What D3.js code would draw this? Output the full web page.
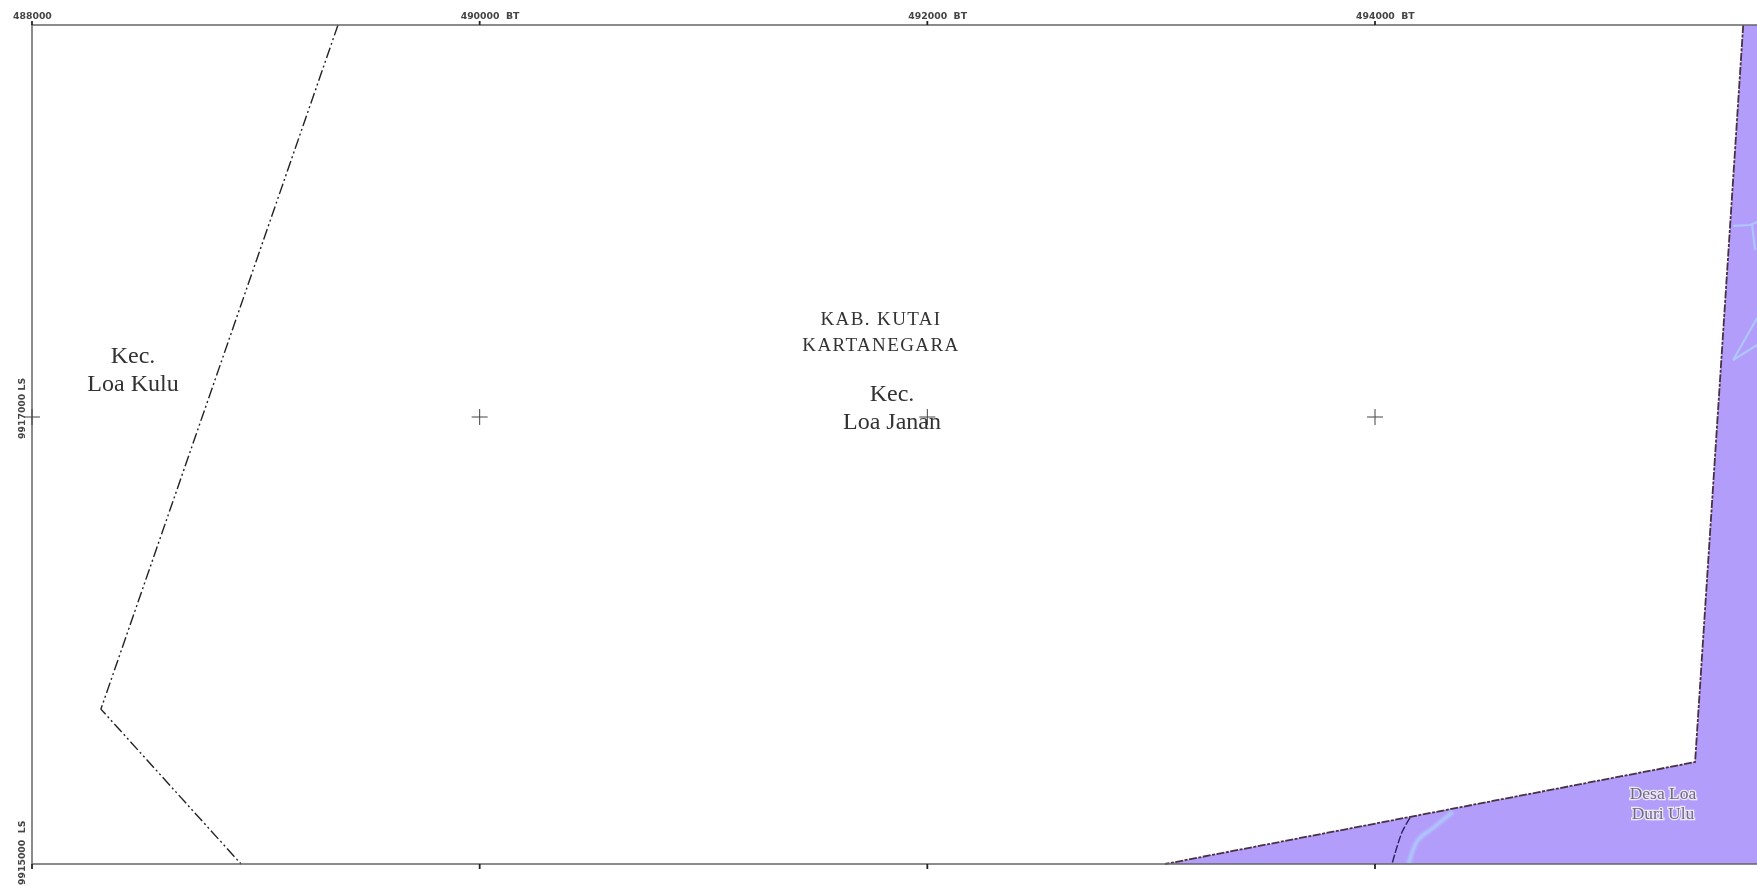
<!DOCTYPE html>
<html>
<head>
<meta charset="utf-8">
<script src="https://cdn.jsdelivr.net/npm/d3@7"></script>
<style>
  html, body { margin: 0; padding: 0; background: #fff; overflow: hidden; }
  text { fill: #333; }
  .tick-label { font-family: "DejaVu Sans", sans-serif; font-size: 9.3px; font-weight: bold; fill: #444; }
  .place { font-family: "Liberation Serif", serif; text-anchor: middle; }
</style>
</head>
<body>
<svg id="map" width="1757" height="886"></svg>
<script>
// map coordinates are metres (east, north)
const xTicks = [488000, 490000, 492000, 494000];
const xTickLabels = ["488000", "490000  BT", "492000  BT", "494000  BT"];
const yTicks = [9917000, 9915000];
const yTickLabels = ["9917000 LS", "9915000  LS"];

const areaEast = [495645, 495430, 493062, 495707, 495707];
const areaNorth = [9918754, 9915456, 9915000, 9915000, 9918754];

const westLineEast = [489367, 488308, 488934];
const westLineNorth = [9918754, 9915693, 9915000];

const innerLineEast = [494156, 494121, 494076];
const innerLineNorth = [9915206, 9915143, 9915000];

const stream1East = [494348, 494259, 494192, 494150];
const stream1North = [9915233, 9915161, 9915107, 9915000];
const stream2East = [495600, 495676, 495707];
const stream2North = [9917855, 9917859, 9917872];
const stream2bEast = [495685, 495698];
const stream2bNorth = [9917859, 9917747];
const stream3East = [495707, 495600, 495707];
const stream3North = [9917443, 9917255, 9917322];

const xScale = d3.scaleLinear().domain([488000, 494000]).range([32, 1375]);
const yScale = d3.scaleLinear().domain([9917000, 9915000]).range([417, 864]);

const root = d3.select("#map");
// the source is a soft scan, so everything gets a slight blur
root.append("filter").attr("id", "soft")
  .attr("filterUnits", "userSpaceOnUse")
  .attr("x", 0).attr("y", 0).attr("width", 1757).attr("height", 886)
  .append("feGaussianBlur").attr("stdDeviation", 0.55);
root.append("filter").attr("id", "softer")
  .append("feGaussianBlur").attr("stdDeviation", 0.9);
const svg = root.append("g").attr("filter", "url(#soft)");

const frameTop = yScale(9918754), frameBottom = yScale(9915000);
const frameLeft = xScale(488000), frameRight = 1757;

const toPts = (e, n) => e.map((d, i) => [xScale(d), yScale(n[i])]);
const line = d3.line();
const curve = d3.line().curve(d3.curveCatmullRom);

// purple area
svg.append("path")
  .attr("d", line(toPts(areaEast, areaNorth)) + "Z")
  .attr("fill", "#b39dfb");

// streams
svg.append("path")
  .attr("d", curve(toPts(stream1East, stream1North)))
  .attr("fill", "none")
  .attr("stroke", "#aec6fb")
  .attr("stroke-width", 4)
  .attr("filter", "url(#softer)");

[[stream2East, stream2North], [stream2bEast, stream2bNorth], [stream3East, stream3North]].forEach(s => {
  svg.append("path")
    .attr("d", line(toPts(s[0], s[1])))
    .attr("fill", "none")
    .attr("stroke", "#aec6fb")
    .attr("stroke-width", 2.2);
});

// boundaries
svg.append("path")
  .attr("d", line(toPts(westLineEast, westLineNorth)))
  .attr("fill", "none")
  .attr("stroke", "#222")
  .attr("stroke-width", 1.4)
  .attr("stroke-dasharray", "11 3 2 3 2 3");

svg.append("path")
  .attr("d", line(toPts(areaEast.slice(0, 3), areaNorth.slice(0, 3))))
  .attr("fill", "none")
  .attr("stroke", "#4a3040")
  .attr("stroke-width", 1.8)
  .attr("stroke-dasharray", "8 1.5 3 1.5");

svg.append("path")
  .attr("d", curve(toPts(innerLineEast, innerLineNorth)))
  .attr("fill", "none")
  .attr("stroke", "#2a2060")
  .attr("stroke-width", 1.4)
  .attr("stroke-dasharray", "8 2");

// frame
svg.append("path")
  .attr("d", `M${frameLeft},${frameBottom}V${frameTop}H${frameRight}M${frameLeft},${frameBottom}H${frameRight}`)
  .attr("fill", "none")
  .attr("stroke", "#666")
  .attr("stroke-width", 1.5);

// ticks and labels
xTicks.forEach((t, i) => {
  svg.append("line").attr("x1", xScale(t)).attr("x2", xScale(t))
    .attr("y1", frameTop - 4).attr("y2", frameTop).attr("stroke", "#222").attr("stroke-width", 1.8);
  svg.append("line").attr("x1", xScale(t)).attr("x2", xScale(t))
    .attr("y1", frameBottom).attr("y2", frameBottom + 5).attr("stroke", "#222").attr("stroke-width", 1.8);
  svg.append("text").attr("class", "tick-label")
    .attr("x", xScale(t) - 19).attr("y", 19)
    .style("white-space", "pre")
    .text(xTickLabels[i]);
  svg.append("path")
    .attr("d", `M${xScale(t) - 8},${yScale(yTicks[0])}H${xScale(t) + 8}M${xScale(t)},${yScale(yTicks[0]) - 8}V${yScale(yTicks[0]) + 8}`)
    .attr("stroke", "#444").attr("stroke-width", 1).attr("fill", "none");
});

yTicks.forEach((t, i) => {
  svg.append("text").attr("class", "tick-label")
    .attr("transform", `translate(25,${yScale(t) + (i == 0 ? 22 : 21)}) rotate(-90)`)
    .style("white-space", "pre")
    .text(yTickLabels[i]);
});

// place names
const places = [
  { lines: ["Kec.", "Loa Kulu"], x: 133, y: [363, 391], size: 24 },
  { lines: ["KAB. KUTAI", "KARTANEGARA"], x: 881, y: [325, 351], size: 19, spacing: 1.4 },
  { lines: ["Kec.", "Loa Janan"], x: 892, y: [401, 429], size: 24 }
];
places.forEach(p => {
  p.lines.forEach((l, i) => {
    svg.append("text").attr("class", "place")
      .attr("x", p.x).attr("y", p.y[i])
      .attr("font-size", p.size)
      .attr("letter-spacing", p.spacing || 0)
      .text(l);
  });
});

// village label with pale halo
["Desa Loa", "Duri Ulu"].forEach((l, i) => {
  svg.append("text").attr("class", "place")
    .attr("x", 1663).attr("y", 799 + i * 20)
    .attr("font-size", 17.5)
    .attr("stroke", "#ece8f8").attr("stroke-width", 2.5)
    .style("paint-order", "stroke")
    .style("fill", "#6f6a85")
    .text(l);
});
</script>
</body>
</html>
